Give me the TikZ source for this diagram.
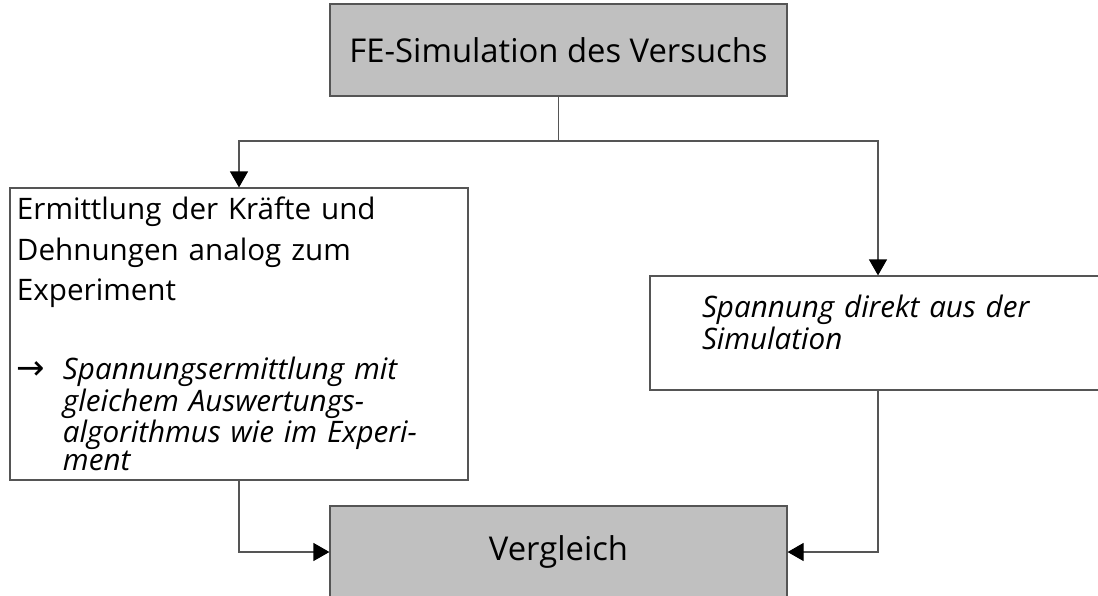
\documentclass[tikz,border=0pt]{standalone}
\usepackage{fontspec}
\setmainfont{Open Sans}
\newfontfamily\arrowfont{DejaVu Sans}
\usepackage{tikz}
\usetikzlibrary{arrows.meta,positioning}
\definecolor{boxgray}{HTML}{C0C0C0}
\definecolor{linegray}{HTML}{555555}
\tikzset{style={>={Triangle[length=8pt,width=9pt,color=black]}}}
\tikzset{headbox/.style={rectangle,fill=boxgray,draw=linegray,line width=0.6pt,minimum width=228.5pt,minimum height=46pt,font=\fontsize{16.4}{19}\selectfont}}
\tikzset{stepbox/.style={rectangle,fill=white,draw=linegray,line width=0.6pt,inner xsep=3pt,align=left,font=\fontsize{14.8}{14}\selectfont}}
\tikzset{conn/.style={draw=linegray,line width=0.6pt}}

\begin{document}
\begin{tikzpicture}[x=0.5pt,y=-0.5pt]
    \useasboundingbox (0,0) rectangle (1098,595);

    \node[headbox] (fe)  at (558.5, 50)  {FE-Simulation des Versuchs};
    \node[headbox] (vgl) at (558.5, 552) {Vergleich};

    \node[stepbox,minimum width=229pt,minimum height=146pt,text width=222pt] (kraefte) at (239, 334)
      {Ermittlung der Kräfte und\\[4.5pt]
       Dehnungen analog zum\\[4.5pt]
       Experiment\\[24pt]
       \makebox[23pt][l]{\arrowfont\fontsize{17}{14}\selectfont →}\textit{Spannungsermittlung mit}\\
       \hspace*{23pt}\textit{gleichem Auswertungs-}\\
       \hspace*{23pt}\textit{algorithmus wie im Experi-}\\
       \hspace*{23pt}\textit{ment}};
    \node[stepbox,minimum width=228pt,minimum height=57pt,text width=176pt] (direkt) at (878, 333)
      {\textit{Spannung direkt aus der}\\
       \textit{Simulation}\\[-3pt]\mbox{}};

    \coordinate (fork) at (558.5, 141);

    \draw[conn] (fe) -- (fork);
    \draw[conn,->] (fork) -| (kraefte);
    \draw[conn,->] (fork) -| (direkt);
    \draw[conn,->] (kraefte) |- (vgl);
    \draw[conn,->] (direkt) |- (vgl);
  \end{tikzpicture}
\end{document}
